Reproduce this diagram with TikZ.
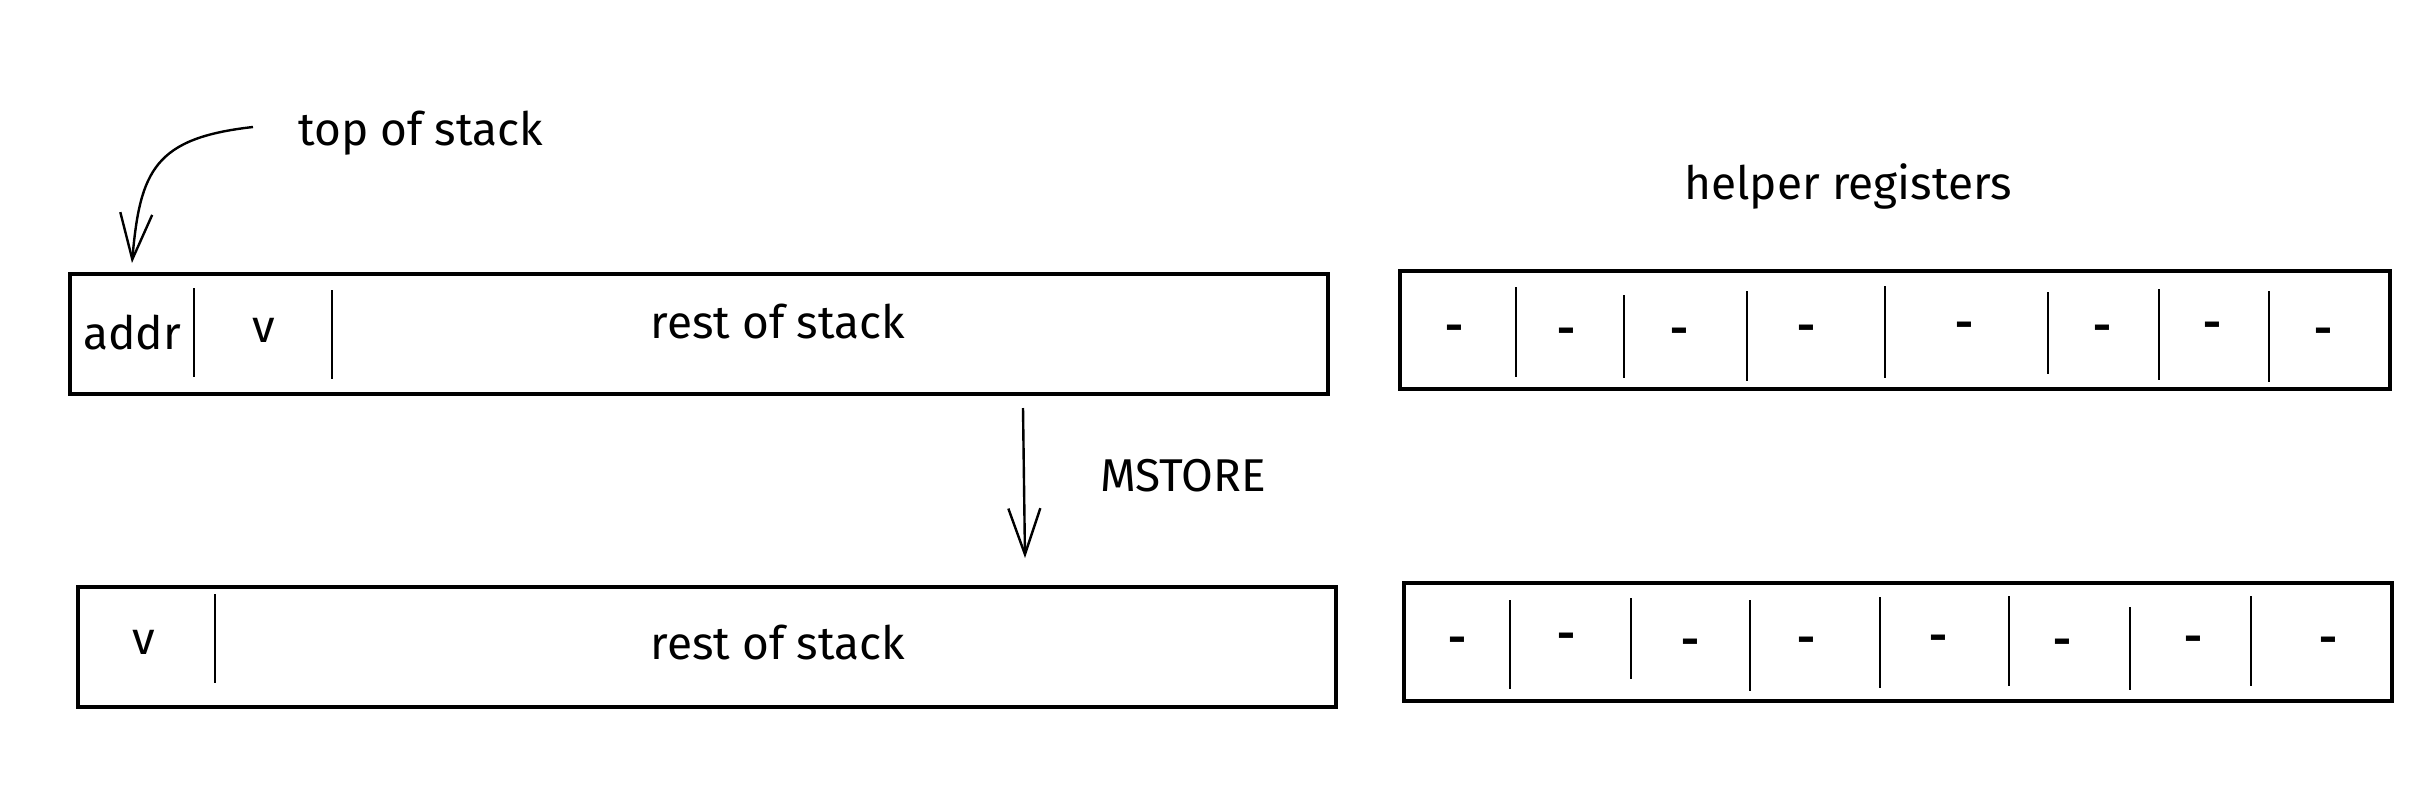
\documentclass[tikz,border=0pt]{standalone}
\usepackage{fontspec}
\setmainfont{Fira Sans}
\usetikzlibrary{arrows.meta}
\begin{document}
\begin{tikzpicture}[x=1pt,y=-1pt,
  box/.style={draw, line width=3.4pt, inner sep=0pt},
  sep/.style={line width=2.6pt},
  lbl/.style={inner sep=0pt, font=\fontsize{46}{54}\selectfont},
  dashtxt/.style={inner sep=0pt, font=\fontsize{44}{52}\selectfont\bfseries},
  arr/.style={line width=2.4pt, -{Straight Barb[length=46pt, width=32pt, line width=2.4pt]}}]
\useasboundingbox[fill=white] (0,0) rectangle (2430,798);
% top of stack label and arrow
\node[lbl, anchor=west] (tos) at (298,133) {top of stack};
\coordinate (c1) at (253,127);
\coordinate (c2) at (132,263);
\draw[arr] (c1) .. controls (155,138) and (140,170) .. (c2);
% top stack
\node[box, minimum width=1258pt, minimum height=120pt] (s1) at (699,334) {};
\draw[sep] (194,288) -- (194,377);
\draw[sep] (332,290) -- (332,379);
\node[lbl] (addr) at (132,333) {addr};
\node[lbl] (v1) at (264,330) {v};
\node[lbl] (r1) at (778,322) {rest of stack};
% helper registers
\node[lbl] (hr) at (1848,186) {helper registers};
\node[box, minimum width=990pt, minimum height=118pt] (h1) at (1895,330) {};
\foreach \x/\a/\b in {1516/287/377, 1624/295/378, 1747/291/381, 1885/286/378, 2048/292/374, 2159/289/380, 2269/291/382}
  \draw[sep] (\x,\a) -- (\x,\b);
\foreach \x/\y [count=\i] in {1454/333, 1566/336, 1679/336, 1806/333, 1964/330, 2102/333, 2212/330, 2323/336}
  \node[dashtxt] (hd\i) at (\x,\y) {-};
% MSTORE arrow
\coordinate (m1) at (1023,408);
\coordinate (m2) at (1025,558);
\draw[arr] (m1) -- (m2);
\node[lbl] (ms) at (1183,476) {MSTORE};
% bottom stack
\node[box, minimum width=1258pt, minimum height=120pt] (s2) at (707,647) {};
\draw[sep] (215,594) -- (215,683);
\node[lbl] (v2) at (144,642) {v};
\node[lbl] (r2) at (778,643) {rest of stack};
% bottom helper registers
\node[box, minimum width=988pt, minimum height=118pt] (h2) at (1898,642) {};
\foreach \x/\a/\b in {1510/600/689, 1631/598/679, 1750/600/691, 1880/597/688, 2009/596/686, 2130/607/690, 2251/596/686}
  \draw[sep] (\x,\a) -- (\x,\b);
\foreach \x/\y [count=\i] in {1457/645, 1566/641, 1690/647, 1806/645, 1938/643, 2062/647, 2193/644, 2328/645}
  \node[dashtxt] (bd\i) at (\x,\y) {-};
\end{tikzpicture}
\end{document}
